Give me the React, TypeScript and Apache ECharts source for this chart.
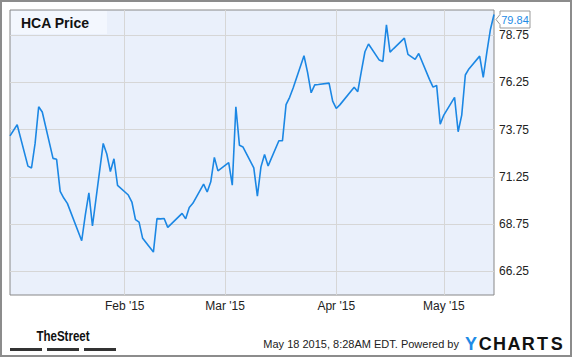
import React, { useEffect, useRef } from 'react';
import * as echarts from 'echarts';

const dates = [
  '2014-12-31', '2015-01-02', '2015-01-05', '2015-01-06', '2015-01-07', '2015-01-08', '2015-01-09',
  '2015-01-12', '2015-01-13', '2015-01-14', '2015-01-15', '2015-01-16',
  '2015-01-20', '2015-01-21', '2015-01-22', '2015-01-23',
  '2015-01-26', '2015-01-27', '2015-01-28', '2015-01-29', '2015-01-30',
  '2015-02-02', '2015-02-03', '2015-02-04', '2015-02-05', '2015-02-06',
  '2015-02-09', '2015-02-10', '2015-02-11', '2015-02-12', '2015-02-13',
  '2015-02-17', '2015-02-18', '2015-02-19', '2015-02-20',
  '2015-02-23', '2015-02-24', '2015-02-25', '2015-02-26', '2015-02-27',
  '2015-03-02', '2015-03-03', '2015-03-04', '2015-03-05', '2015-03-06',
  '2015-03-09', '2015-03-10', '2015-03-11', '2015-03-12', '2015-03-13',
  '2015-03-16', '2015-03-17', '2015-03-18', '2015-03-19', '2015-03-20',
  '2015-03-23', '2015-03-24', '2015-03-25', '2015-03-26', '2015-03-27',
  '2015-03-30', '2015-03-31', '2015-04-01', '2015-04-02',
  '2015-04-06', '2015-04-07', '2015-04-08', '2015-04-09', '2015-04-10',
  '2015-04-13', '2015-04-14', '2015-04-15', '2015-04-16', '2015-04-17',
  '2015-04-20', '2015-04-21', '2015-04-22', '2015-04-23', '2015-04-24',
  '2015-04-27', '2015-04-28', '2015-04-29', '2015-04-30', '2015-05-01',
  '2015-05-04', '2015-05-05', '2015-05-06', '2015-05-07', '2015-05-08',
  '2015-05-11', '2015-05-12', '2015-05-13', '2015-05-14', '2015-05-15',
];

const prices = [
  73.42, 74.01, 71.82, 71.72, 73.02, 74.96, 74.68,
  72.23, 72.18, 70.48, 70.13, 69.85,
  67.87, 69.23, 70.41, 68.65,
  73.02, 72.46, 71.53, 72.21, 70.80,
  70.29, 69.92, 68.99, 68.86, 68.00,
  67.27, 69.04, 69.03, 69.05, 68.58,
  69.32, 69.03, 69.63, 69.85,
  70.87, 70.45, 70.99, 72.28, 71.57,
  72.00, 70.81, 74.96, 72.92, 72.83,
  71.73, 70.23, 71.78, 72.43, 71.83,
  73.16, 73.17, 75.07, 75.46, 75.97,
  77.66, 76.78, 75.70, 76.12, 76.14,
  76.21, 75.26, 74.87, 75.06,
  75.99, 75.76, 76.83, 77.87, 78.28,
  77.43, 77.36, 79.30, 77.85, 78.04,
  78.59, 77.73, 77.60, 77.47, 77.78,
  76.41, 76.00, 76.09, 74.04, 74.52,
  75.46, 73.64, 74.52, 76.64, 76.96,
  77.64, 76.51, 77.84, 79.05, 79.84,
];

const yTicks = [66.25, 68.75, 71.25, 73.75, 76.25, 78.75];
const xTickDates = ['2015-02-01', '2015-03-01', '2015-04-01', '2015-05-01'];
const xTickLabels = ["Feb '15", "Mar '15", "Apr '15", "May '15"];
const seriesName = 'HCA Price';
const footerText = 'May 18 2015, 8:28AM EDT. Powered by';
const brandLetters = ['Y', 'C', 'H', 'A', 'R', 'T', 'S'];
const sourceName = 'TheStreet';

const FONT = '"Liberation Sans", Arial, sans-serif';

function ts(s: string): number {
  const [y, m, d] = s.split('-').map(Number);
  return Date.UTC(y, m - 1, d);
}

export default function App() {
  const ref = useRef<HTMLDivElement>(null);

  useEffect(() => {
    document.body.style.margin = '0';
    if (!ref.current) return;
    const chart = echarts.init(ref.current, undefined, { renderer: 'svg' });
    const xTickTs = xTickDates.map(ts);
    const data = dates.map((d, i) => [ts(d), prices[i]]);
    const lineColor = '#1b87e4';

    chart.setOption({
      animation: false,
      grid: {
        left: 10,
        top: 10,
        width: 484,
        height: 285,
        show: true,
        backgroundColor: '#eaf0fb',
        borderColor: '#888888',
        borderWidth: 1,
      },
      xAxis: {
        type: 'value',
        min: ts(dates[0]),
        max: ts(dates[dates.length - 1]),
        axisLine: { show: false },
        axisTick: { show: false, customValues: xTickTs },
        splitLine: { show: true, lineStyle: { color: '#d6d6d6', width: 1 } },
        axisLabel: {
          customValues: xTickTs,
          margin: 5,
          color: '#222',
          fontSize: 12,
          fontFamily: FONT,
          formatter: (v: number) => {
            const i = xTickTs.indexOf(v);
            return i >= 0 ? xTickLabels[i] : '';
          },
        },
      },
      yAxis: {
        type: 'value',
        position: 'right',
        min: 65,
        max: 80.08,
        axisLine: { show: false },
        axisTick: { show: false, customValues: yTicks },
        splitLine: { show: true, lineStyle: { color: '#d6d6d6', width: 1 } },
        axisLabel: {
          customValues: yTicks,
          margin: 5,
          color: '#222',
          fontSize: 12,
          fontFamily: FONT,
          formatter: (v: number) => v.toFixed(2),
        },
      },
      series: [
        {
          name: seriesName,
          type: 'line',
          data,
          showSymbol: false,
          lineStyle: { color: lineColor, width: 1.6 },
          itemStyle: { color: lineColor },
        },
      ],
    });

    const last = data[data.length - 1];
    const [px, py] = chart.convertToPixel({ gridIndex: 0 }, last) as number[];
    const tipX = px + 2;
    const cy = Math.max(py, 19.5);

    const letterEls = brandLetters.map((ch, i) => ({
      type: 'text',
      x: 471 + i * 14.3,
      y: 343.5,
      style: {
        text: ch,
        fill: i === 0 ? '#1e8be6' : '#111',
        font: `bold 18px ${FONT}`,
        align: 'center',
        verticalAlign: 'middle',
      },
    }));

    chart.setOption({
      graphic: {
        elements: [
          {
            type: 'rect',
            shape: { x: 1, y: 1, width: 570, height: 355 },
            style: { fill: 'none', stroke: '#8c8c8c', lineWidth: 2 },
            silent: true,
          },
          {
            type: 'rect',
            shape: { x: 11, y: 11, width: 96, height: 23 },
            style: { fill: '#f3f7fe' },
            z: 5,
          },
          {
            type: 'text',
            x: 21,
            y: 23,
            z: 6,
            style: {
              text: seriesName,
              fill: '#111',
              font: `bold 14px ${FONT}`,
              verticalAlign: 'middle',
            },
          },
          {
            type: 'polygon',
            z: 6,
            shape: {
              points: [
                [tipX, cy],
                [tipX + 4, cy - 5],
                [tipX + 4, cy - 8.5],
                [tipX + 34, cy - 8.5],
                [tipX + 34, cy + 8.5],
                [tipX + 4, cy + 8.5],
                [tipX + 4, cy + 5],
              ],
            },
            style: { fill: '#fff', stroke: '#999', lineWidth: 1 },
          },
          {
            type: 'text',
            z: 7,
            x: tipX + 19,
            y: cy + 0.5,
            style: {
              text: (last[1] as number).toFixed(2),
              fill: '#1e8be6',
              font: `11px ${FONT}`,
              align: 'center',
              verticalAlign: 'middle',
            },
          },
          {
            type: 'text',
            x: 63,
            y: 336,
            scaleX: 0.77,
            style: {
              text: sourceName,
              fill: '#111',
              font: `bold 15px ${FONT}`,
              align: 'center',
              verticalAlign: 'middle',
            },
          },
          { type: 'rect', shape: { x: 10, y: 348, width: 32, height: 3 }, style: { fill: '#333' } },
          { type: 'rect', shape: { x: 47, y: 348, width: 32, height: 3 }, style: { fill: '#333' } },
          { type: 'rect', shape: { x: 84, y: 348, width: 32, height: 3 }, style: { fill: '#333' } },
          {
            type: 'text',
            x: 459,
            y: 344,
            style: {
              text: footerText,
              fill: '#222',
              font: `11px ${FONT}`,
              align: 'right',
              verticalAlign: 'middle',
            },
          },
          ...letterEls,
        ],
      },
    });

    return () => chart.dispose();
  }, []);

  return <div ref={ref} style={{ width: 575, height: 358 }} />;
}
